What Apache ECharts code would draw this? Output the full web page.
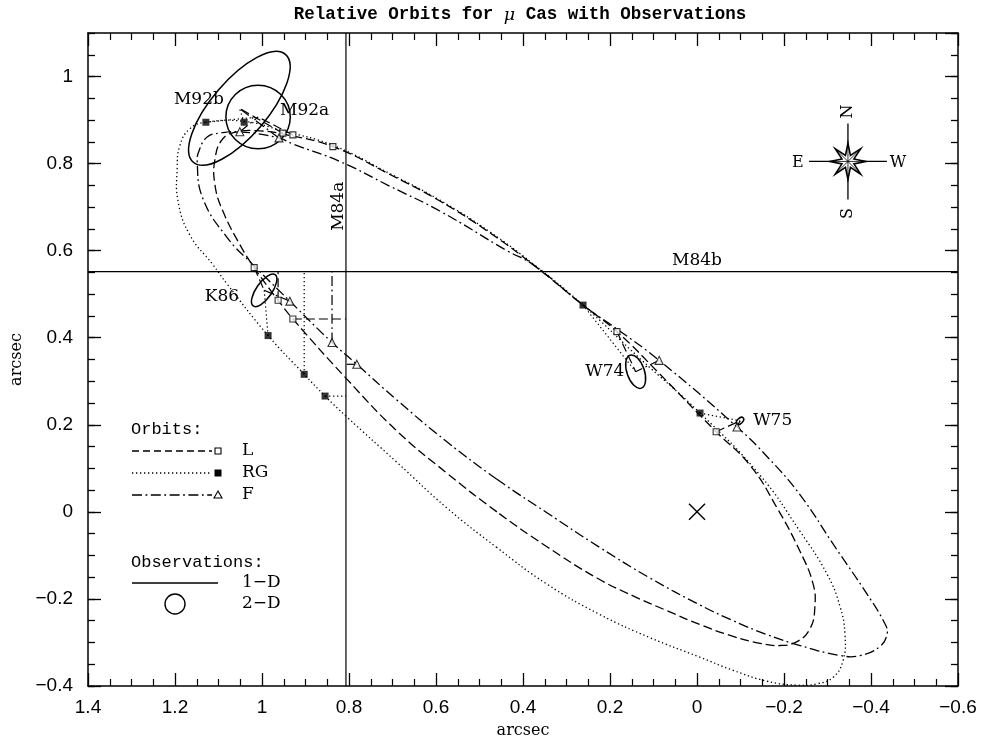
<!DOCTYPE html>
<html>
<head>
<meta charset="utf-8">
<script src="https://cdn.jsdelivr.net/npm/echarts@6.0.0/dist/echarts.min.js"></script>
<style>
html,body{margin:0;padding:0;background:#fff;}
#chart{width:982px;height:744px;}
</style>
</head>
<body>
<div id="chart"></div>
<script>
// ================= DATA =================
const xRange = [-0.6, 1.4];
const yRange = [-0.4, 1.1];

// Orbit L (dashed) - closed curve
const orbitL = [
[0.460,0.000],[0.575,0.089],[0.690,0.186],[0.805,0.305],[0.929,0.443],[0.963,0.486],[1.018,0.561],[1.051,0.614],
[1.090,0.691],[1.108,0.750],[1.108,0.811],[1.090,0.857],[1.057,0.873],[1.005,0.875],[0.952,0.868],[0.837,0.839],
[0.706,0.775],[0.591,0.714],[0.476,0.641],[0.377,0.568],[0.262,0.475],[0.184,0.414],[0.085,0.316],[-0.044,0.184],
[-0.122,0.107],[-0.184,0.009],[-0.237,-0.091],[-0.267,-0.166],[-0.271,-0.218],[-0.260,-0.268],[-0.230,-0.298],
[-0.191,-0.307],[-0.145,-0.302],[-0.083,-0.286],[-0.007,-0.259],[0.069,-0.227],[0.147,-0.193],[0.230,-0.152],
[0.345,-0.080]
];
// Orbit RG (dotted) - closed curve
const orbitRG = [
[0.460,-0.082],[0.575,0.009],[0.690,0.114],[0.805,0.218],[0.855,0.266],[0.903,0.316],[0.986,0.405],[1.080,0.523],
[1.113,0.568],[1.166,0.636],[1.193,0.714],[1.195,0.789],[1.189,0.841],[1.166,0.880],[1.129,0.895],[1.041,0.897],
[0.952,0.875],[0.837,0.842],[0.706,0.777],[0.591,0.716],[0.476,0.643],[0.377,0.570],[0.262,0.475],[0.131,0.352],
[-0.007,0.227],[-0.145,0.084],[-0.237,-0.045],[-0.299,-0.143],[-0.329,-0.218],[-0.340,-0.280],[-0.336,-0.341],
[-0.313,-0.380],[-0.276,-0.395],[-0.230,-0.398],[-0.161,-0.389],[-0.083,-0.364],[-0.007,-0.334],[0.108,-0.289],
[0.223,-0.236],[0.345,-0.166]
];
// Orbit F (dash-dot) - closed curve
const orbitF = [
[0.460,0.075],[0.575,0.161],[0.690,0.257],[0.782,0.339],[0.839,0.389],[0.936,0.484],[1.021,0.568],[1.080,0.630],
[1.136,0.720],[1.149,0.805],[1.143,0.834],[1.126,0.861],[1.097,0.870],[1.051,0.873],[0.961,0.859],[0.929,0.845],
[0.821,0.805],[0.706,0.748],[0.591,0.691],[0.437,0.600],[0.377,0.568],[0.262,0.475],[0.184,0.420],[0.087,0.348],
[-0.092,0.195],[-0.163,0.125],[-0.237,0.039],[-0.317,-0.080],[-0.391,-0.189],[-0.432,-0.257],[-0.437,-0.280],
[-0.421,-0.309],[-0.375,-0.330],[-0.329,-0.330],[-0.237,-0.307],[-0.161,-0.282],[-0.083,-0.250],[-0.007,-0.214],
[0.108,-0.152],[0.223,-0.082],[0.345,-0.002]
];

// Observation epochs and orbit predictions at them
const epochs = ['M92a','M92b','K86','M84a','M84b','W74','W75'];
const predL  = [[0.929,0.866],[0.952,0.870],[1.018,0.561],[0.929,0.443],[0.963,0.486],[0.184,0.414],[-0.044,0.184]];
const predRG = [[1.129,0.895],[1.041,0.895],[0.986,0.405],[0.855,0.266],[0.903,0.316],[0.262,0.475],[-0.007,0.227]];
const predF  = [[1.051,0.873],[0.961,0.859],[0.936,0.484],[0.782,0.339],[0.839,0.389],[0.087,0.348],[-0.092,0.195]];
const extraL = [[0.837,0.839]];

// 2-D observations: [x, y, semi-axis a, semi-axis b, tilt deg]
const obs2DNames  = ['M92a','M92b','K86','W74','W75'];
const obs2DValues = [
  [1.009,0.907,0.074,0.073,0],
  [1.052,0.927,0.163,0.064,49.5],
  [0.995,0.509,0.044,0.018,55],
  [0.141,0.322,0.040,0.020,-71],
  [-0.099,0.209,0.010,0.006,45]
];
// 1-D observations
const m84aX = 0.807;
const m84bY = 0.552;
// primary star
const primary = [[0,0]];

// labels: [text, x, y, rotate]
const obsLabels = [
  ['M92b',1.145,0.948,0],['M92a',0.902,0.922,0],['K86',1.092,0.494,0],
  ['W74',0.212,0.323,0],['W75',-0.174,0.209,0],['M84a',0.823,0.702,90],['M84b',0.000,0.578,0]
];
const compassPos = [[-0.347,0.805]];

// ================= CHART =================
const BLACK = '#000';
const DASH_L = [9,4];
const DASH_RG = [1.3,2.7];
const DASH_F = [10,3.5,1.8,3.5];
const serif = '"DejaVu Serif", "Liberation Serif", serif';
const mono = '"Liberation Mono", "DejaVu Sans Mono", monospace';
const sans = '"Liberation Sans", Arial, sans-serif';

function fmt(v){
  const s = String(+Math.abs(v).toFixed(2));
  return v < -1e-9 ? '\u2212' + s : s;
}

function residuals(pred){
  return epochs.map((e,i)=>{
    const p = pred[i];
    let o;
    if (e === 'M84a') o = [m84aX, p[1]];
    else if (e === 'M84b') o = [p[0], m84bY];
    else { const k = obs2DNames.indexOf(e); o = [obs2DValues[k][0], obs2DValues[k][1]]; }
    return [p[0], p[1], o[0], o[1]];
  });
}

// closed smooth orbit drawn through the cartesian scales
function orbitSeries(orbit, dash){
  return {type:'custom', data:[0], silent:true, z:2,
    renderItem:(params, api)=>{
      const pts = orbit.map(p => api.coord(p));
      return {type:'polygon', shape:{points:pts, smooth:0.45},
        style:{fill:'none', stroke:BLACK, lineWidth:1.3, lineDash:dash}};
    }};
}
function segSeries(segs, dash, width){
  return {type:'custom', data:segs, silent:true, z:3, encode:{x:[0,2], y:[1,3]},
    renderItem:(params, api)=>{
      const a = api.coord([api.value(0), api.value(1)]);
      const b = api.coord([api.value(2), api.value(3)]);
      return {type:'line', shape:{x1:a[0],y1:a[1],x2:b[0],y2:b[1]},
        style:{stroke:BLACK, lineWidth:width||1.2, lineDash:dash, fill:null}};
    }};
}

const axisLineStyle = {color:BLACK, width:1.5};
function xAxisDef(pos, labels){
  return {type:'value', min:xRange[0], max:xRange[1], interval:0.2, inverse:true, position:pos,
    axisLine:{show:true, onZero:false, lineStyle:axisLineStyle},
    axisTick:{show:true, inside:true, length:13, lineStyle:{color:BLACK, width:1.3}},
    minorTick:{show:true, splitNumber:4, length:7, lineStyle:{color:BLACK, width:1.2}},
    splitLine:{show:false}, minorSplitLine:{show:false},
    axisLabel: labels ? {show:true, margin:12, fontSize:19, fontFamily:sans, color:BLACK, formatter:fmt} : {show:false},
    name: labels ? 'arcsec' : '', nameLocation:'middle', nameGap:37,
    nameTextStyle:{fontFamily:serif, fontSize:16, color:BLACK}
  };
}
function yAxisDef(pos, interval, tickLen, labels, showLine){
  return {type:'value', min:yRange[0], max:yRange[1], interval, position:pos,
    axisLine:{show:showLine, onZero:false, lineStyle:axisLineStyle},
    axisTick:{show:true, inside:true, length:tickLen, lineStyle:{color:BLACK, width:1.3}},
    splitLine:{show:false},
    axisLabel: labels ? {show:true, margin:15, fontSize:19, fontFamily:sans, color:BLACK, formatter:fmt, showMaxLabel:false} : {show:false},
    name: labels ? 'arcsec' : '', nameLocation:'middle', nameGap:56,
    nameTextStyle:{fontFamily:serif, fontSize:16, color:BLACK}
  };
}

const series = [
  orbitSeries(orbitL, DASH_L),
  orbitSeries(orbitRG, DASH_RG),
  orbitSeries(orbitF, DASH_F),
  // 1-D observation lines
  {type:'line', data:[[m84aX, yRange[0]],[m84aX, yRange[1]]], symbol:'none', silent:true, z:2,
    lineStyle:{color:BLACK, width:1.2, type:'solid'}},
  {type:'line', data:[[xRange[1], m84bY],[xRange[0], m84bY]], symbol:'none', silent:true, z:2,
    lineStyle:{color:BLACK, width:1.2, type:'solid'}},
  segSeries(residuals(predL), DASH_L),
  segSeries(residuals(predRG), DASH_RG),
  segSeries(residuals(predF), DASH_F),
  // 2-D observation ellipses
  {type:'custom', data:obs2DValues, silent:true, z:4,
    renderItem:(params, api)=>{
      const c = api.coord([api.value(0), api.value(1)]);
      const rx = api.size([api.value(2), 0])[0];
      const ry = api.size([0, api.value(3)])[1];
      return {type:'ellipse', x:c[0], y:c[1], rotation:api.value(4)*Math.PI/180,
        shape:{cx:0, cy:0, rx, ry}, style:{fill:'none', stroke:BLACK, lineWidth:1.5}};
    }},
  // markers
  {type:'scatter', data:predL.concat(extraL), symbol:'rect', symbolSize:6, z:6, silent:true,
    itemStyle:{color:'#fff', borderColor:BLACK, borderWidth:1.1}},
  {type:'scatter', data:predRG, symbol:'rect', symbolSize:7, z:6, silent:true,
    itemStyle:{color:BLACK, borderColor:BLACK, borderWidth:0}},
  {type:'scatter', data:predF, symbol:'triangle', symbolSize:8, z:6, silent:true,
    itemStyle:{color:'#fff', borderColor:BLACK, borderWidth:1.1}},
  // primary X
  {type:'custom', data:primary, silent:true, z:5,
    renderItem:(params, api)=>{
      const c = api.coord([api.value(0), api.value(1)]);
      const s = 8;
      return {type:'group', children:[
        {type:'line', shape:{x1:c[0]-s,y1:c[1]-s,x2:c[0]+s,y2:c[1]+s}, style:{stroke:BLACK, lineWidth:1.4}},
        {type:'line', shape:{x1:c[0]-s,y1:c[1]+s,x2:c[0]+s,y2:c[1]-s}, style:{stroke:BLACK, lineWidth:1.4}}
      ]};
    }},
  // labels
  {type:'custom', data:obsLabels.map(l=>[l[1], l[2]]), silent:true, z:7,
    renderItem:(params, api)=>{
      const l = obsLabels[params.dataIndex];
      const c = api.coord([l[1], l[2]]);
      return {type:'text', x:c[0], y:c[1], rotation:l[3]*Math.PI/180,
        style:{text:l[0], font:'17px ' + serif, fill:BLACK, align:'center', verticalAlign:'middle'}};
    }},
  // compass rose
  {type:'custom', data:compassPos, silent:true, z:7,
    renderItem:(params, api)=>{
      const c = api.coord([api.value(0), api.value(1)]);
      const pts = [];
      for (let k=0;k<16;k++){
        const ang = k*Math.PI/8;
        const r = (k%2===0) ? 18 : 6.5;
        pts.push([Math.cos(ang)*r, Math.sin(ang)*r]);
      }
      const children = [
        {type:'line', shape:{x1:-39,y1:0,x2:39,y2:0}, style:{stroke:BLACK, lineWidth:1.3}},
        {type:'line', shape:{x1:0,y1:-38,x2:0,y2:38}, style:{stroke:BLACK, lineWidth:1.3}},
        {type:'polygon', shape:{points:pts}, style:{fill:'#fff', stroke:BLACK, lineWidth:1.6}}
      ];
      for (let k=0;k<16;k+=2){
        children.push({type:'line', shape:{x1:0,y1:0,x2:pts[k][0],y2:pts[k][1]}, style:{stroke:BLACK, lineWidth:0.8}});
      }
      const tf = '16px ' + serif;
      children.push({type:'text', x:0, y:-50, rotation:Math.PI/2, style:{text:'N', font:tf, fill:BLACK, align:'center', verticalAlign:'middle'}});
      children.push({type:'text', x:0, y:52, rotation:Math.PI/2, style:{text:'S', font:tf, fill:BLACK, align:'center', verticalAlign:'middle'}});
      children.push({type:'text', x:-50, y:1, style:{text:'E', font:tf, fill:BLACK, align:'center', verticalAlign:'middle'}});
      children.push({type:'text', x:50, y:1, style:{text:'W', font:tf, fill:BLACK, align:'center', verticalAlign:'middle'}});
      return {type:'group', x:c[0], y:c[1], children};
    }}
];

// legend (drawn manually)
const lgX0 = 132, lgX1 = 212, lgMark = 218, lgText = 242;
const legendGraphics = [
  {type:'text', x:131, y:429, style:{text:'Orbits:', font:'17px ' + mono, fill:BLACK, verticalAlign:'middle'}},
  {type:'line', shape:{x1:lgX0,y1:451,x2:lgX1,y2:451}, style:{stroke:BLACK, lineWidth:1.3, lineDash:[7,4]}},
  {type:'rect', shape:{x:lgMark-3,y:448,width:6,height:6}, style:{fill:'#fff', stroke:BLACK, lineWidth:1.1}},
  {type:'text', x:lgText, y:451, style:{text:'L', font:'17px ' + serif, fill:BLACK, verticalAlign:'middle'}},
  {type:'line', shape:{x1:lgX0,y1:473,x2:lgX1,y2:473}, style:{stroke:BLACK, lineWidth:1.3, lineDash:DASH_RG}},
  {type:'rect', shape:{x:lgMark-3.5,y:469.5,width:7,height:7}, style:{fill:BLACK}},
  {type:'text', x:lgText, y:473, style:{text:'RG', font:'17px ' + serif, fill:BLACK, verticalAlign:'middle'}},
  {type:'line', shape:{x1:lgX0,y1:495,x2:lgX1,y2:495}, style:{stroke:BLACK, lineWidth:1.3, lineDash:DASH_F}},
  {type:'polygon', shape:{points:[[lgMark,491],[lgMark+4,498],[lgMark-4,498]]}, style:{fill:'#fff', stroke:BLACK, lineWidth:1.1}},
  {type:'text', x:lgText, y:495, style:{text:'F', font:'17px ' + serif, fill:BLACK, verticalAlign:'middle'}},
  {type:'text', x:131, y:562, style:{text:'Observations:', font:'17px ' + mono, fill:BLACK, verticalAlign:'middle'}},
  {type:'line', shape:{x1:lgX0,y1:583,x2:218,y2:583}, style:{stroke:BLACK, lineWidth:1.4}},
  {type:'text', x:lgText, y:583, style:{text:'1\u2212D', font:'17px ' + serif, fill:BLACK, verticalAlign:'middle'}},
  {type:'circle', shape:{cx:175,cy:604,r:10}, style:{fill:'none', stroke:BLACK, lineWidth:1.4}},
  {type:'text', x:lgText, y:604, style:{text:'2\u2212D', font:'17px ' + serif, fill:BLACK, verticalAlign:'middle'}},
  {type:'text', x:520, y:15, style:{
    text:'{t|Relative Orbits for }{m|\u03bc}{t| Cas with Observations}',
    rich:{t:{font:'bold 17.5px ' + mono, fill:BLACK}, m:{font:'italic 17.5px ' + serif, fill:BLACK}},
    fill:BLACK, align:'center', verticalAlign:'middle'}}
];

const option = {
  animation:false,
  backgroundColor:'#fff',
  grid:{left:88, top:33, right:24, bottom:51, containLabel:false},
  xAxis:[xAxisDef('bottom', true), xAxisDef('top', false)],
  yAxis:[
    yAxisDef('left', 0.2, 13, true, true),
    yAxisDef('left', 0.05, 7, false, false),
    yAxisDef('right', 0.2, 13, false, true),
    yAxisDef('right', 0.05, 7, false, false)
  ],
  graphic:{elements:legendGraphics},
  series:series.map(s=>Object.assign({xAxisIndex:0, yAxisIndex:0, animation:false}, s))
};

const chart = echarts.init(document.getElementById('chart'), null, {renderer:'canvas'});
chart.setOption(option);
</script>
</body>
</html>
